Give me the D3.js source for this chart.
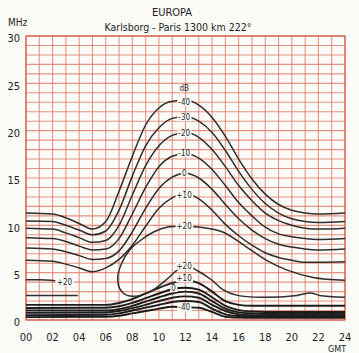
<!DOCTYPE html>
<html>
<head>
<meta charset="utf-8">
<script src="https://cdn.jsdelivr.net/npm/d3@7"></script>
<style>
  body { margin: 0; background: #fbfbf8; }
  svg text { font-family: "DejaVu Sans Condensed", "Liberation Sans Narrow", "DejaVu Sans", sans-serif; fill: #1e1e1e; }
</style>
</head>
<body>
<svg width="359" height="353"></svg>
<script>
// hours (GMT) at which the upper contours were read
const hoursUpper = [0, 2, 3, 4, 5, 6, 7, 8, 9, 10, 11, 12, 13, 14, 15, 16, 17, 18, 19, 20, 21, 22, 24];
// upper contours, MHz (dB labels)
const upM40 = [11.3, 11.2, 10.8, 10.2, 9.6, 10.4, 13.6, 17.3, 20.6, 22.4, 23.1, 23.2, 22.7, 21.4, 19.4, 17.0, 14.9, 13.3, 12.2, 11.6, 11.3, 11.2, 11.3];
const upM30 = [10.45, 10.4, 10.0, 9.5, 9.0, 9.4, 11.6, 15.2, 18.4, 20.3, 21.3, 21.5, 21.0, 19.8, 17.9, 15.7, 13.8, 12.3, 11.3, 10.7, 10.4, 10.3, 10.4];
const upM20 = [9.7, 9.6, 9.2, 8.7, 8.2, 8.4, 10.0, 13.2, 16.3, 18.4, 19.5, 19.8, 19.3, 18.0, 16.2, 14.2, 12.6, 11.3, 10.5, 10.0, 9.7, 9.6, 9.7];
const upM10 = [8.7, 8.6, 8.3, 7.8, 7.4, 7.5, 8.6, 11.2, 14.0, 16.2, 17.3, 17.6, 17.1, 15.9, 14.2, 12.4, 11.0, 9.8, 9.1, 8.8, 8.6, 8.5, 8.6];
const up0 = [7.6, 7.5, 7.2, 6.8, 6.4, 6.5, 7.3, 9.3, 11.8, 13.9, 15.1, 15.5, 15.0, 13.8, 12.2, 10.7, 9.5, 8.6, 8.0, 7.7, 7.5, 7.4, 7.5];
const upP10 = [6.3, 6.2, 5.9, 5.5, 5.1, 5.5, 6.4, 7.9, 9.9, 11.8, 12.9, 13.3, 12.8, 11.6, 10.1, 8.9, 7.9, 7.1, 6.6, 6.3, 6.1, 6.1, 6.15];

// the +20 dB contour: one line folding round the daytime maximum [hour, MHz]
const p20Loop = [[24, 4.2], [21.6, 4.5], [19.6, 5.3], [18.1, 6.3], [16.6, 7.7], [14.8, 9.3], [13.1, 9.8], [11.8, 9.9],
  [10.6, 9.8], [9.6, 9.3], [8.6, 8.4], [7.8, 7.4], [7.2, 6.0], [6.9, 4.5], [7.1, 3.2], [7.6, 2.6], [8.6, 2.6],
  [9.6, 3.2], [10.6, 4.3], [11.5, 5.4], [12.1, 5.7], [12.9, 5.2], [14.0, 4.2], [14.8, 3.2], [15.9, 2.6],
  [17.8, 2.4], [20.4, 2.6], [21.4, 2.85], [22.1, 2.6], [24, 2.4]];
const p20Left = [[0, 4.25], [1, 4.25], [2.2, 4.15]];
const p20LeftLow = [[0, 2.6], [2, 2.6], [3.9, 2.6]];

// lower contours
const hoursLower = [0, 6, 7, 8, 9, 10, 11, 12, 13, 14, 15, 16, 17, 18, 24];
const loP10 = [1.6, 1.6, 1.8, 2.2, 2.8, 3.4, 3.9, 4.2, 3.9, 3.0, 2.0, 1.6, 1.5, 1.5, 1.5];
const lo0 = [1.27, 1.3, 1.45, 1.8, 2.3, 2.8, 3.25, 3.4, 3.2, 2.4, 1.5, 1.05, 0.9, 0.85, 0.85];
const loM10 = [1.0, 1.0, 1.15, 1.5, 1.95, 2.4, 2.8, 3.0, 2.8, 2.0, 1.2, 0.8, 0.7, 0.65, 0.65];
const loM20 = [0.75, 0.8, 0.95, 1.25, 1.6, 2.0, 2.35, 2.5, 2.35, 1.6, 0.95, 0.6, 0.52, 0.5, 0.5];
const loM30 = [0.5, 0.55, 0.7, 1.0, 1.3, 1.6, 1.9, 2.0, 1.9, 1.2, 0.6, 0.42, 0.38, 0.35, 0.35];
const loM40 = [0.3, 0.35, 0.45, 0.7, 0.95, 1.2, 1.4, 1.35, 1.3, 0.85, 0.35, 0.25, 0.22, 0.22, 0.22];

// curve labels [text, hour, MHz]
const labelsUpper = [['-40', 11.9, 23.0], ['-30', 11.9, 21.4], ['-20', 11.9, 19.7], ['-10', 11.9, 17.6], ['0', 11.9, 15.5], ['+10', 11.9, 13.2], ['+20', 11.9, 9.9]];
const labelsLower = [['+20', 11.9, 5.7], ['+10', 11.9, 4.4], ['0', 11.1, 3.35], ['-40', 11.9, 1.3], ['+20', 2.9, 4.0]];

const xTicks = ['00', '02', '04', '06', '08', '10', '12', '14', '16', '18', '20', '22', '24'];
const yTicks = [0, 5, 10, 15, 20, 25, 30];

const svg = d3.select('svg');
const margin = {top: 36, right: 14, bottom: 33, left: 26};
const width = 359 - margin.left - margin.right;
const height = 353 - margin.top - margin.bottom;

const graph = svg.append('g')
  .attr('transform', `translate(${margin.left},${margin.top})`);

const x = d3.scaleLinear().domain([0, 24]).range([0, width]);
const y = d3.scaleLinear().domain([0, 30]).range([height, 0]);

// salmon grid, one line per hour and per MHz
const gridColour = '#e0725e';

graph.append('g')
  .selectAll('line')
  .data(d3.range(0, 25))
  .enter().append('line')
  .attr('x1', d => x(d)).attr('x2', d => x(d))
  .attr('y1', 0).attr('y2', height)
  .attr('stroke', gridColour)
  .attr('stroke-opacity', 0.75)
  .attr('stroke-width', 1.1);

graph.append('g')
  .selectAll('line')
  .data(d3.range(0, 31))
  .enter().append('line')
  .attr('y1', d => y(d)).attr('y2', d => y(d))
  .attr('x1', 0).attr('x2', width)
  .attr('stroke', gridColour)
  .attr('stroke-opacity', 0.75)
  .attr('stroke-width', 1.1);

graph.append('rect')
  .attr('width', width).attr('height', height)
  .attr('fill', 'none')
  .attr('stroke', '#d65a45')
  .attr('stroke-width', 1.2);

// contours
const lineFn = d3.line()
  .x(d => x(d[0]))
  .y(d => y(d[1]))
  .curve(d3.curveMonotoneX);

const loopFn = d3.line()
  .x(d => x(d[0]))
  .y(d => y(d[1]))
  .curve(d3.curveCatmullRom.alpha(0.5));

const upper = [upM40, upM30, upM20, upM10, up0, upP10];
upper.forEach(vals => {
  graph.append('path')
    .datum(hoursUpper.map((h, i) => [h, vals[i]]))
    .attr('d', lineFn)
    .attr('fill', 'none')
    .attr('stroke', '#2e2e2e')
    .attr('stroke-width', 1.5);
});

const lower = [loP10, lo0, loM10, loM20, loM30, loM40];
lower.forEach(vals => {
  graph.append('path')
    .datum(hoursLower.map((h, i) => [h, vals[i]]))
    .attr('d', lineFn)
    .attr('fill', 'none')
    .attr('stroke', '#1c1c1c')
    .attr('stroke-width', 1.9);
});

[p20Loop, p20Left, p20LeftLow].forEach(pts => {
  graph.append('path')
    .datum(pts)
    .attr('d', loopFn)
    .attr('fill', 'none')
    .attr('stroke', '#2e2e2e')
    .attr('stroke-width', 1.5);
});

// labels sit on the curves with a white patch behind them
const labelG = graph.append('g');
labelsUpper.concat(labelsLower).forEach(l => {
  const t = labelG.append('text')
    .attr('x', x(l[1]))
    .attr('y', y(l[2]))
    .attr('dy', '0.35em')
    .attr('text-anchor', 'middle')
    .attr('font-size', 8)
    .text(l[0]);
  const bb = t.node().getBBox();
  labelG.insert('rect', () => t.node())
    .attr('x', bb.x - 1).attr('y', bb.y + 1)
    .attr('width', bb.width + 2).attr('height', bb.height - 2)
    .attr('fill', '#fbfbf8');
});
labelG.append('text')
  .attr('x', x(11.9)).attr('y', y(24.2))
  .attr('text-anchor', 'middle')
  .attr('font-size', 8)
  .text('dB');

// axes as plain labels, like the printed sheet
svg.append('g')
  .selectAll('text')
  .data(yTicks)
  .enter().append('text')
  .attr('x', 20)
  .attr('y', d => margin.top + y(d) + 2.5)
  .attr('dy', '0.35em')
  .attr('text-anchor', 'end')
  .attr('font-size', 11)
  .text(d => d);

svg.append('g')
  .selectAll('text')
  .data(xTicks)
  .enter().append('text')
  .attr('x', d => margin.left + x(+d))
  .attr('y', 341)
  .attr('text-anchor', 'middle')
  .attr('font-size', 11)
  .text(d => d);

svg.append('text').attr('x', 337).attr('y', 352).attr('text-anchor', 'middle').attr('font-size', 9).text('GMT');
svg.append('text').attr('x', 8).attr('y', 26).attr('font-size', 10).text('MHz');
svg.append('text').attr('x', 172).attr('y', 16).attr('text-anchor', 'middle').attr('font-size', 11).text('EUROPA');
svg.append('text').attr('x', 178).attr('y', 31).attr('text-anchor', 'middle').attr('font-size', 10.5).text('Karlsborg - Paris  1300 km  222°');
</script>
</body>
</html>
